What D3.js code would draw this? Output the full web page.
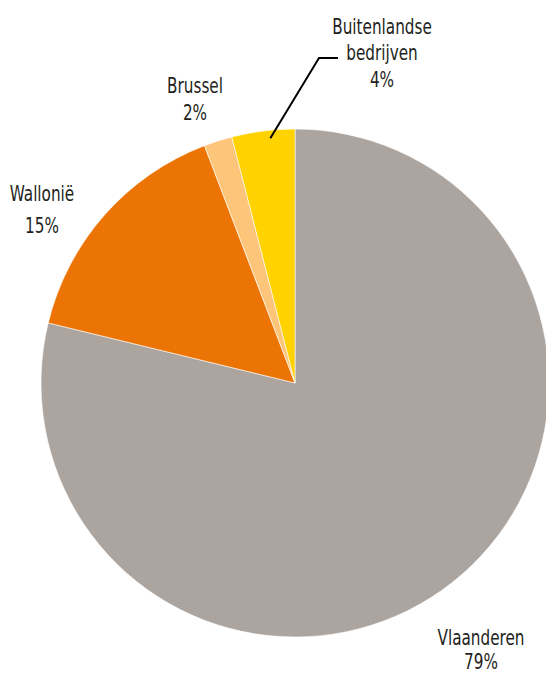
<!DOCTYPE html>
<html>
<head>
<meta charset="utf-8">
<script src="https://cdn.jsdelivr.net/npm/d3@7"></script>
<style>
  body { margin: 0; background: #fff; }
  text { font-family: "DejaVu Sans Condensed", "Liberation Sans Narrow", sans-serif; fill: #231f20; }
</style>
</head>
<body>
<svg id="chart" width="546" height="675"></svg>
<script>

//  slice order is clockwise from 12 o'clock
var regions = ['Vlaanderen', 'Wallonië', 'Brussel', 'Buitenlandse bedrijven'];
var shares = [78.8, 15.4, 1.8, 4.0];
var shareLabels = ['79%', '15%', '2%', '4%'];
var colors = ['#aba49f', '#ec7405', '#fdc57a', '#ffd200'];

//  name lines per slice (percentage goes below)
var nameLines = [
    ['Vlaanderen'],
    ['Wallonië'],
    ['Brussel'],
    ['Buitenlandse', 'bedrijven']
];
var labelPos = [[481, 645], [42, 201], [195, 93], [382, 34]];
var lineGap = [24, 32, 27, 26.5];

var cx = 295, cy = 383, radius = 254;

var svg = d3.select('#chart');

var data = regions.map(function(d, i) {
    return {
        name: d,
        value: shares[i],
        color: colors[i],
        lines: nameLines[i].concat([shareLabels[i]]),
        pos: labelPos[i],
        gap: lineGap[i]
    };
});

var pie = d3.pie()
    .sort(null)
    .value(function(d) { return d.value; });

var arc = d3.arc()
    .innerRadius(0)
    .outerRadius(radius);

var g = svg.append('g')
    .attr('transform', 'translate(' + cx + ',' + cy + ')');

var arcs = pie(data);

g.selectAll('path')
    .data(arcs)
    .enter()
    .append('path')
    .attr('d', arc)
    .attr('fill', function(d) { return d.data.color; })
    .attr('stroke', '#fff')
    .attr('stroke-width', 0.6);

//  leader line for the small foreign-company slice
var foreign = arcs[3];
var a = foreign.startAngle + (foreign.endAngle - foreign.startAngle) * 0.6;
var r0 = radius - 8;
var p0 = [cx + Math.sin(a) * r0, cy - Math.cos(a) * r0];

svg.append('polyline')
    .attr('points', [p0, [319, 58], [338, 58]].map(function(p) { return p.join(','); }).join(' '))
    .attr('fill', 'none')
    .attr('stroke', '#000')
    .attr('stroke-width', 2);

//  condensed look: squeeze the glyphs horizontally
var labels = svg.selectAll('g.lbl')
    .data(data)
    .enter()
    .append('g')
    .attr('class', 'lbl')
    .attr('transform', function(d) { return 'translate(' + d.pos[0] + ',' + d.pos[1] + ') scale(0.77,1)'; })
    .append('text')
    .attr('text-anchor', 'middle')
    .attr('font-size', 22);

labels.selectAll('tspan')
    .data(function(d) { return d.lines.map(function(l) { return { text: l, gap: d.gap }; }); })
    .enter()
    .append('tspan')
    .attr('x', 0)
    .attr('y', function(d, i) { return i * d.gap; })
    .text(function(d) { return d.text; });

</script>
</body>
</html>
